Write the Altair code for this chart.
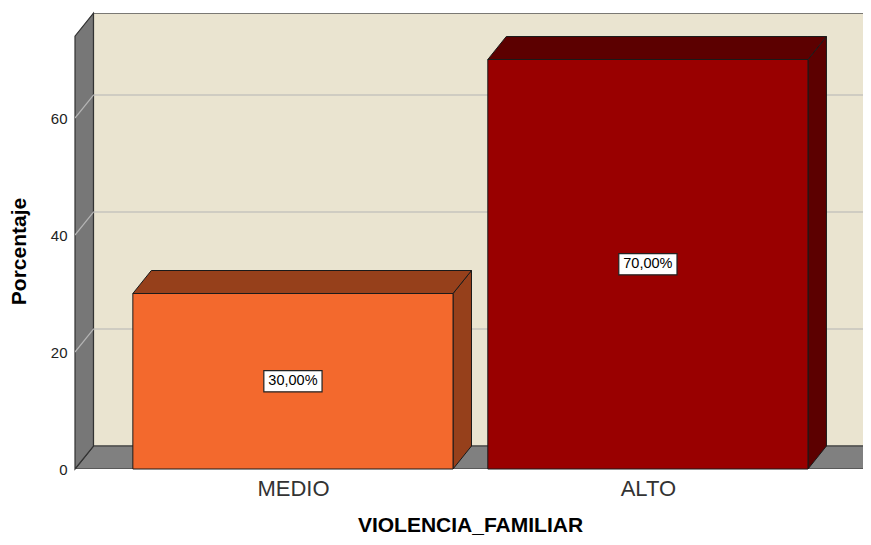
import altair as alt
import pandas as pd

# ---- data ----
categories = ["MEDIO", "ALTO"]
percentages = [30.0, 70.0]
value_labels = ["30,00%", "70,00%"]
y_ticks = [0, 20, 40, 60]

front_colors = ["#F3692D", "#990000"]
side_colors = ["#96401B", "#5C0000"]

# ---- layout constants (chart units) ----
X_MIN, X_MAX = -0.614, 1.606
Y_MAX = 77.95
HALF = 0.451          # half bar width
DX = 0.052            # depth offset along x
DY = 3.93             # depth offset along y
WALL_TOP = 74
FLOOR_END = 1.614
BOX_W = 0.082         # half label box width
BOX_H = 1.8           # half label box height

BEIGE = "#EAE4D0"
GRAY_WALL = "#777777"
GRAY_FLOOR = "#808080"
EDGE = "#333333"
FONT = "Liberation Sans"

xs = alt.Scale(domain=[X_MIN, X_MAX], nice=False, zero=False)
ys = alt.Scale(domain=[0, Y_MAX], nice=False, zero=False)

label_expr = " : ".join(
    [f"datum.value == {i} ? '{c}'" for i, c in enumerate(categories)]
) + " : ''"

# back wall
back_df = pd.DataFrame({"x": [X_MIN + DX], "x2": [FLOOR_END + DX],
                        "y": [DY], "y2": [WALL_TOP + DY]})
back = alt.Chart(back_df).mark_rect(fill=BEIGE, stroke="#555555", strokeWidth=1.2, clip=True).encode(
    x=alt.X("x:Q", scale=xs,
            axis=alt.Axis(values=list(range(len(categories))), labelExpr=label_expr,
                          title="VIOLENCIA_FAMILIAR", grid=False, ticks=False, domain=False,
                          labelFontSize=22, labelColor="#333333", labelPadding=9,
                          labelFont=FONT, labelBaseline="top",
                          titleFontSize=21, titleFont=FONT, titleFontWeight="bold",
                          titleColor="#000000", titleBaseline="alphabetic", titleY=62,
                          titleX=395)),
    x2="x2:Q",
    y=alt.Y("y:Q", scale=ys,
            axis=alt.Axis(values=y_ticks, title="Porcentaje", grid=False, ticks=False,
                          domain=False, labelFontSize=15, labelColor="#222222",
                          labelPadding=8, labelFont=FONT,
                          titleFontSize=21, titleFont=FONT, titleFontWeight="bold",
                          titleColor="#000000", titleX=-56, titleY=238,
                          titleAngle=270, titleBaseline="middle")),
    y2="y2:Q",
)

# floor
floor_df = pd.DataFrame({
    "x": [X_MIN, X_MIN + DX, FLOOR_END, FLOOR_END + DX],
    "y": [0, 0, 0, DY],
    "y2": [0, DY, DY, DY],
})
floor = alt.Chart(floor_df).mark_area(fill=GRAY_FLOOR, stroke=EDGE, strokeWidth=1.2, clip=True).encode(
    x=alt.X("x:Q", scale=xs), y=alt.Y("y:Q", scale=ys), y2="y2:Q")

# left wall
wall_df = pd.DataFrame({
    "x": [X_MIN, X_MIN + DX],
    "y": [0, DY],
    "y2": [WALL_TOP, WALL_TOP + DY],
})
wall = alt.Chart(wall_df).mark_area(fill=GRAY_WALL, stroke=EDGE, strokeWidth=1.2).encode(
    x=alt.X("x:Q", scale=xs), y=alt.Y("y:Q", scale=ys), y2="y2:Q")

# gridlines (left wall diagonal + back wall horizontal)
grid_rows = []
for v in y_ticks[1:]:
    grid_rows += [
        {"g": v, "o": 0, "x": X_MIN, "y": v},
        {"g": v, "o": 1, "x": X_MIN + DX, "y": v + DY},
        {"g": v, "o": 2, "x": X_MAX, "y": v + DY},
    ]
grid = alt.Chart(pd.DataFrame(grid_rows)).mark_line(color="#B4B4B4", strokeWidth=1.2, clip=True).encode(
    x=alt.X("x:Q", scale=xs), y=alt.Y("y:Q", scale=ys), detail="g:N", order="o:Q")

# bars
front_rows, side_rows, top_rows, lab_rows = [], [], [], []
for i, (c, v) in enumerate(zip(categories, percentages)):
    front_rows.append({"cat": c, "x": i - HALF, "x2": i + HALF, "y": 0, "y2": v,
                       "fill": front_colors[i]})
    side_rows += [
        {"cat": c, "x": i + HALF, "y": 0, "y2": v, "fill": side_colors[i]},
        {"cat": c, "x": i + HALF + DX, "y": DY, "y2": v + DY, "fill": side_colors[i]},
    ]
    top_rows += [
        {"cat": c, "x": i - HALF, "y": v, "y2": v, "fill": side_colors[i]},
        {"cat": c, "x": i - HALF + DX, "y": v, "y2": v + DY, "fill": side_colors[i]},
        {"cat": c, "x": i + HALF, "y": v, "y2": v + DY, "fill": side_colors[i]},
        {"cat": c, "x": i + HALF + DX, "y": v + DY, "y2": v + DY, "fill": side_colors[i]},
    ]
    lab_rows.append({"cat": c, "x": i, "y": v / 2, "bx": i - BOX_W, "bx2": i + BOX_W,
                     "by": v / 2 - BOX_H, "by2": v / 2 + BOX_H, "label": value_labels[i]})

side = alt.Chart(pd.DataFrame(side_rows)).mark_area(stroke="#1a1a1a", strokeWidth=1).encode(
    x=alt.X("x:Q", scale=xs), y=alt.Y("y:Q", scale=ys), y2="y2:Q",
    detail="cat:N", fill=alt.Fill("fill:N", scale=None))
top = alt.Chart(pd.DataFrame(top_rows)).mark_area(stroke="#1a1a1a", strokeWidth=1).encode(
    x=alt.X("x:Q", scale=xs), y=alt.Y("y:Q", scale=ys), y2="y2:Q",
    detail="cat:N", fill=alt.Fill("fill:N", scale=None))
front = alt.Chart(pd.DataFrame(front_rows)).mark_rect(stroke="#1a1a1a", strokeWidth=1).encode(
    x=alt.X("x:Q", scale=xs), x2="x2:Q", y=alt.Y("y:Q", scale=ys), y2="y2:Q",
    fill=alt.Fill("fill:N", scale=None))

lab_df = pd.DataFrame(lab_rows)
box = alt.Chart(lab_df).mark_rect(fill="white", stroke="#222222", strokeWidth=1.2).encode(
    x=alt.X("bx:Q", scale=xs), x2="bx2:Q", y=alt.Y("by:Q", scale=ys), y2="by2:Q")
txt = alt.Chart(lab_df).mark_text(fontSize=14.5, font=FONT, color="#000000").encode(
    x=alt.X("x:Q", scale=xs), y=alt.Y("y:Q", scale=ys), text="label:N")

chart = alt.layer(back, floor, wall, grid, side, top, front, box, txt).properties(
    width=788, height=456,
    autosize=alt.AutoSizeParams(type="none"),
    padding={"left": 67, "top": 5, "right": 0, "bottom": 68},
    background="white",
).configure_view(stroke=None)

chart.save("out.html", embed_options={"renderer": "svg", "actions": False})
